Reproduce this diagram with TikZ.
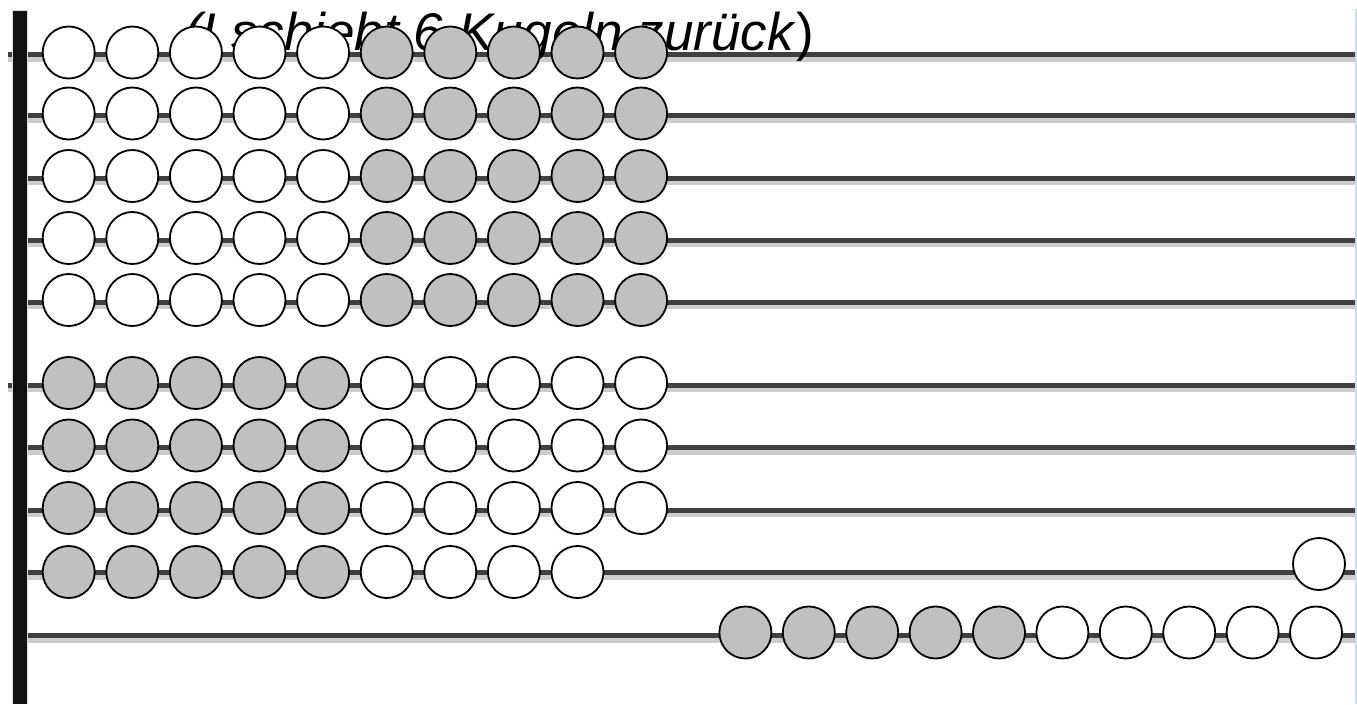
\documentclass[tikz,border=0pt]{standalone}
\usepackage{fontspec}
\setmainfont{Liberation Sans}
\definecolor{roddark}{HTML}{404040}
\definecolor{rodlight}{HTML}{CCCCCC}
\definecolor{beadgray}{HTML}{C0C0C0}
\definecolor{barblue}{HTML}{C6E2E6}
\definecolor{barblack}{HTML}{111111}
\begin{document}
\begin{tikzpicture}[x=1pt,y=-1pt,
  bead/.style={circle,draw=black,line width=1.8pt,minimum size=52pt,inner sep=0pt},
  wbead/.style={bead,fill=white},
  gbead/.style={bead,fill=beadgray},
  rodlow/.style={rodlight,line width=9.5pt},
  rodtop/.style={roddark,line width=5pt}]
\useasboundingbox (0,0) rectangle (1357,704);
\fill[white] (0,0) rectangle (1357,704);
% rods
\foreach \r/\y/\s in {1/54.5/8,2/115.5/28,3/178/28,4/240/28,5/302/28,6/385/8,7/447.5/28,8/510/28,9/572.5/28,10/635.5/28}{
  \coordinate (rs\r) at (\s,\y);
  \coordinate (re\r) at (1356,\y);
  \coordinate (rsl\r) at (\s,\y+2.25);
  \coordinate (rel\r) at (1356,\y+2.25);
  \draw[rodlow] (rsl\r) -- (rel\r);
  \draw[rodtop] (rs\r) -- (re\r);
}
% caption
\node[anchor=base west,inner sep=0pt,font=\fontsize{53}{60}\selectfont] (cap) at (184,50) {\textit{(I schiebt 6 Kugeln zurück})};
% frame
\fill[barblue] (12,10) rectangle (28,704);
\fill[barblack] (13,11) rectangle (26.5,704);
\coordinate (fr1) at (1356,9);
\coordinate (fr2) at (1356,704);
\draw[barblue,line width=1.5pt] (fr1) -- (fr2);
% beads rows 1-5
\foreach \r/\y in {1/52.5,2/113.5,3/176,4/238,5/300}{
  \foreach \k in {1,...,10}{
    \pgfmathsetmacro{\xx}{68.7+63.6*(\k-1)}
    \ifnum\k<6
      \node[wbead] (b\r-\k) at (\xx,\y) {};
    \else
      \node[gbead] (b\r-\k) at (\xx,\y) {};
    \fi
  }
}
% beads rows 6-8
\foreach \r/\y in {6/383,7/445.5,8/508}{
  \foreach \k in {1,...,10}{
    \pgfmathsetmacro{\xx}{68.7+63.6*(\k-1)}
    \ifnum\k<6
      \node[gbead] (b\r-\k) at (\xx,\y) {};
    \else
      \node[wbead] (b\r-\k) at (\xx,\y) {};
    \fi
  }
}
% row 9
\foreach \k in {1,...,9}{
  \pgfmathsetmacro{\xx}{68.7+63.6*(\k-1)}
  \ifnum\k<6
    \node[gbead] (b9-\k) at (\xx,572) {};
  \else
    \node[wbead] (b9-\k) at (\xx,572) {};
  \fi
}
\node[wbead] (b9-10) at (1319,564) {};
% row 10
\foreach \k in {1,...,10}{
  \pgfmathsetmacro{\xx}{1316-63.4*(10-\k)}
  \ifnum\k<6
    \node[gbead] (b10-\k) at (\xx,632.5) {};
  \else
    \node[wbead] (b10-\k) at (\xx,632.5) {};
  \fi
}
\end{tikzpicture}
\end{document}
